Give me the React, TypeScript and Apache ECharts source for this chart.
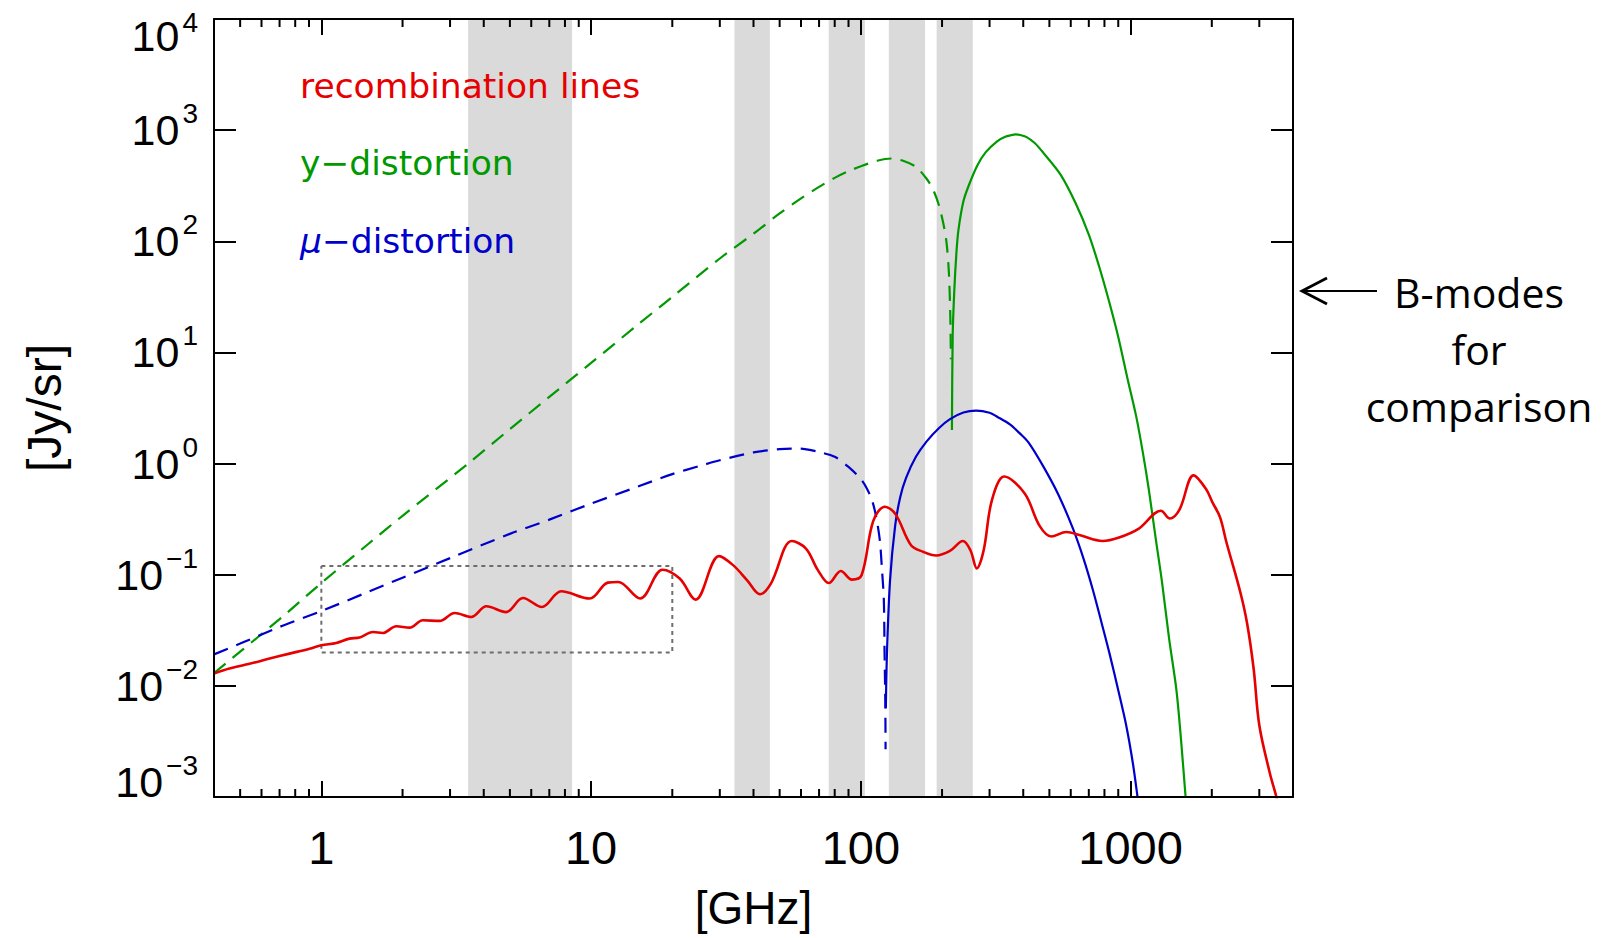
import React, { useEffect, useRef } from 'react';
import * as echarts from 'echarts';

// ---------- axis ranges / ticks ----------
const X_MIN = 0.4;
const X_MAX = 4000;
const Y_MIN = 0.001;
const Y_MAX = 10000;
const xMinorTicks = [0.5, 0.6, 0.7, 0.8, 0.9, 2, 3, 4, 5, 6, 7, 8, 9, 20, 30, 40, 50, 60, 70, 80, 90, 200, 300, 400, 500, 600, 700, 800, 900, 2000, 3000];

// ---------- shaded frequency bands (GHz) ----------
const bandStart = [3.5, 34, 76, 127, 191];
const bandEnd = [8.5, 46, 103.5, 173, 260];

// ---------- dotted box ----------
const boxX = [1, 20];
const boxY = [0.02, 0.12];

// ---------- recombination lines (red) ----------
const recombFreq = [0.4, 0.456, 0.542, 0.643, 0.762, 0.904, 1.0, 1.136, 1.272, 1.386, 1.553, 1.69, 1.896, 2.125, 2.379, 2.743, 3.12, 3.596, 4.09, 4.84, 5.59, 6.57, 7.75, 9.88, 11.54, 12.6, 15.2, 18.4, 21.3, 24.4, 29.8, 33.6, 37.9, 42.3, 46.4, 55.5, 62.6, 69.3, 76.1, 84.3, 92.6, 100.6, 111.2, 122.8, 134.4, 153.5, 170, 190, 214, 239, 254.8, 269, 285.3, 306, 340, 405, 460, 508, 578, 651, 787, 906, 1073, 1295, 1398, 1518, 1712, 1899, 2009, 2145, 2266, 2546, 2700, 2860, 3000, 3290, 3470, 3600];
const recombValue = [0.0129, 0.0143, 0.0158, 0.0176, 0.0195, 0.0216, 0.0232, 0.0243, 0.0266, 0.0272, 0.0305, 0.0299, 0.0344, 0.0334, 0.0389, 0.0384, 0.0453, 0.0417, 0.052, 0.0461, 0.0617, 0.0512, 0.071, 0.061, 0.0849, 0.0859, 0.061, 0.111, 0.0923, 0.0597, 0.147, 0.122, 0.0891, 0.0667, 0.0832, 0.201, 0.172, 0.11, 0.0841, 0.108, 0.0904, 0.0989, 0.305, 0.409, 0.351, 0.184, 0.161, 0.149, 0.164, 0.201, 0.166, 0.114, 0.166, 0.467, 0.764, 0.537, 0.275, 0.221, 0.242, 0.226, 0.201, 0.216, 0.26, 0.376, 0.32, 0.385, 0.783, 0.596, 0.45, 0.33, 0.196, 0.071, 0.0371, 0.0141, 0.00442, 0.0016, 0.001, 0.0006];

// ---------- y-distortion (green): negative part (dashed) and positive part (solid) ----------
const yNegFreq = [0.4, 0.5, 0.7, 1.0, 1.5, 2, 3.5, 5, 7, 10, 15, 20, 30, 40, 50, 60, 70, 80, 90, 100, 115, 130, 145, 160, 175, 185, 195, 203, 208, 212, 214.6, 215.7];
const yNegValue = [0.013, 0.0203, 0.0398, 0.0841, 0.191, 0.339, 1.0, 2.04, 3.98, 8.04, 18.0, 31.6, 70, 117, 178, 243, 309, 372, 427, 473, 531, 556, 525, 468, 367, 295, 209, 138, 95.5, 52.5, 21.4, 8.7];
const yPosFreq = [217.6, 219, 222, 226, 230, 240, 251, 270, 290, 320, 343, 360, 375, 390, 410, 440, 475, 550, 625, 700, 763, 830, 900, 975, 1050, 1110, 1167, 1240, 1308, 1390, 1478, 1540, 1599, 1650];
const yPosValue = [2.0, 14.1, 35.5, 77.6, 126, 229, 316, 479, 631, 794, 871, 900, 915, 905, 870, 770, 625, 398, 221, 115, 60.3, 29.5, 13.8, 5.75, 2.63, 1.26, 0.594, 0.209, 0.0853, 0.0263, 0.00925, 0.00316, 0.001, 0.0004];

// ---------- mu-distortion (blue): negative part (dashed) and positive part (solid) ----------
const muNegFreq = [0.4, 0.5, 0.7, 1, 1.5, 2, 3, 5, 7, 10, 15, 20, 25, 30, 40, 50, 56, 62, 70, 80, 90, 100, 105, 110, 114, 117.6, 119.6, 121.7, 122.4, 123.2, 123.5];
const muNegValue = [0.0192, 0.024, 0.0339, 0.0471, 0.0705, 0.094, 0.141, 0.233, 0.313, 0.436, 0.624, 0.804, 0.944, 1.07, 1.26, 1.35, 1.365, 1.35, 1.27, 1.15, 0.933, 0.724, 0.603, 0.468, 0.331, 0.204, 0.117, 0.0589, 0.0209, 0.00741, 0.00269];
const muPosFreq = [123.8, 125, 128.3, 134, 140, 147, 160, 175.4, 195, 214, 240, 267.5, 300, 320, 357, 390, 420, 474.6, 540, 612, 670, 727, 780, 836, 900, 963, 1020, 1061, 1100];
const muPosValue = [0.0063, 0.02, 0.089, 0.275, 0.5, 0.741, 1.15, 1.585, 2.09, 2.51, 2.88, 3.0, 2.87, 2.64, 2.25, 1.85, 1.53, 0.944, 0.525, 0.258, 0.138, 0.071, 0.0372, 0.0194, 0.00912, 0.00442, 0.002, 0.001, 0.0005];

// ---------- styling ----------
const RED = '#e60000';
const GREEN = '#009900';
const BLUE = '#0000cc';
const GREY_BAND = '#dadada';
const LIB = '"Liberation Sans", Arial, sans-serif';
const DEJ = '"DejaVu Sans", sans-serif';

const zip = (xs: number[], ys: number[]) => xs.map((x, i) => [x, ys[i]]);

function fmtX(v: number): string {
  const l = Math.log10(v);
  if (Math.abs(l - Math.round(l)) < 1e-6 && v >= 1) return String(Math.round(v));
  return '';
}

function fmtY(v: number): string {
  const e = Math.round(Math.log10(v));
  const s = e < 0 ? '\u2212' + -e : String(e);
  if (e === 4) return `{bt|10}{et|${s}}`;
  if (e === -3) return `{bb|10}{eb|${s}}`;
  return `{b|10}{e|${s}}`;
}

const baseTxt = { fontFamily: LIB, fontSize: 43, color: '#000', verticalAlign: 'middle' };
const expTxt = { fontFamily: LIB, fontSize: 28, color: '#000', verticalAlign: 'middle' };
const yRich = {
  b: { ...baseTxt },
  e: { ...expTxt, padding: [0, 0, 33, 3] },
  bt: { ...baseTxt, padding: [34, 0, 0, 0] },
  et: { ...expTxt, padding: [6, 0, 0, 3] },
  bb: { ...baseTxt, padding: [0, 0, 31, 0] },
  eb: { ...expTxt, padding: [0, 0, 64, 3] },
};

const axisLineStyle = { color: '#000', width: 2 };
const DASH = [15, 9];

export default function App() {
  const ref = useRef<HTMLDivElement>(null);

  useEffect(() => {
    if (!ref.current) return;
    const chart = echarts.init(ref.current, undefined, { renderer: 'svg' });

    const lineCommon = {
      type: 'line',
      xAxisIndex: 0,
      yAxisIndex: 0,
      showSymbol: false,
      symbol: 'none',
      smooth: 0.3,
      z: 3,
      silent: true,
    };

    const option: any = {
      animation: false,
      backgroundColor: '#ffffff',
      grid: { left: 214, top: 19, width: 1079, height: 778, show: false, containLabel: false },
      xAxis: [
        {
          type: 'log', logBase: 10, min: X_MIN, max: X_MAX, position: 'bottom', z: 5,
          axisLine: { show: true, onZero: false, lineStyle: axisLineStyle },
          axisTick: { show: true, inside: true, length: 16, lineStyle: axisLineStyle },
          axisLabel: { show: true, margin: 27, fontFamily: LIB, fontSize: 47, color: '#000', formatter: fmtX, showMinLabel: false, showMaxLabel: false },
          splitLine: { show: false },
          name: '[GHz]', nameLocation: 'middle', nameGap: 88,
          nameTextStyle: { fontFamily: LIB, fontSize: 46, color: '#000' },
        },
        {
          type: 'log', logBase: 10, min: X_MIN, max: X_MAX, position: 'top', z: 5,
          axisLine: { show: true, onZero: false, lineStyle: axisLineStyle },
          axisTick: { show: true, inside: true, length: 16, lineStyle: axisLineStyle },
          axisLabel: { show: false },
          splitLine: { show: false },
        },
      ],
      yAxis: [
        {
          type: 'log', logBase: 10, min: Y_MIN, max: Y_MAX, splitNumber: 7, position: 'left', z: 5,
          axisLine: { show: true, onZero: false, lineStyle: axisLineStyle },
          axisTick: { show: true, inside: true, length: 22, lineStyle: axisLineStyle },
          axisLabel: { show: true, margin: 16, formatter: fmtY, rich: yRich },
          splitLine: { show: false },
          name: '[Jy/sr]', nameLocation: 'middle', nameGap: 146, nameRotate: 90,
          nameTextStyle: { fontFamily: LIB, fontSize: 48, color: '#000' },
        },
        {
          type: 'log', logBase: 10, min: Y_MIN, max: Y_MAX, splitNumber: 7, position: 'right', z: 5,
          axisLine: { show: true, onZero: false, lineStyle: axisLineStyle },
          axisTick: { show: true, inside: true, length: 22, lineStyle: axisLineStyle },
          axisLabel: { show: false },
          splitLine: { show: false },
        },
      ],
      series: [
        {
          type: 'custom',
          coordinateSystem: 'cartesian2d',
          xAxisIndex: 0,
          yAxisIndex: 0,
          z: 1,
          silent: true,
          data: bandStart.map((s, i) => [s, bandEnd[i], 1]),
          encode: { x: [0, 1], y: 2 },
          renderItem: (_p: any, api: any) => {
            const p0 = api.coord([api.value(0), Y_MAX]);
            const p1 = api.coord([api.value(1), Y_MIN]);
            return {
              type: 'rect',
              shape: { x: p0[0], y: p0[1], width: p1[0] - p0[0], height: p1[1] - p0[1] },
              style: { fill: GREY_BAND },
            };
          },
        },
        {
          ...lineCommon,
          name: 'box',
          smooth: false,
          z: 2,
          data: [[boxX[0], boxY[1]], [boxX[1], boxY[1]], [boxX[1], boxY[0]], [boxX[0], boxY[0]], [boxX[0], boxY[1]]],
          lineStyle: { color: '#6e6e6e', width: 2, type: [4, 4] },
        },
        {
          ...lineCommon,
          name: 'y-distortion (negative)',
          data: zip(yNegFreq, yNegValue),
          lineStyle: { color: GREEN, width: 2.2, type: DASH },
        },
        {
          ...lineCommon,
          name: 'y-distortion',
          data: zip(yPosFreq, yPosValue),
          lineStyle: { color: GREEN, width: 2.2 },
        },
        {
          ...lineCommon,
          name: 'mu-distortion (negative)',
          data: zip(muNegFreq, muNegValue),
          lineStyle: { color: BLUE, width: 2.2, type: DASH },
        },
        {
          ...lineCommon,
          name: 'mu-distortion',
          data: zip(muPosFreq, muPosValue),
          lineStyle: { color: BLUE, width: 2.2 },
        },
        {
          ...lineCommon,
          name: 'recombination lines',
          smooth: 0.35,
          data: zip(recombFreq, recombValue),
          lineStyle: { color: RED, width: 2.6 },
        },
        {
          type: 'custom',
          coordinateSystem: 'cartesian2d',
          xAxisIndex: 0,
          yAxisIndex: 0,
          z: 6,
          silent: true,
          data: xMinorTicks.map((v) => [v, 1]),
          encode: { x: 0, y: 1 },
          renderItem: (_p: any, api: any) => {
            const v = api.value(0);
            const b = api.coord([v, Y_MIN]);
            const t = api.coord([v, Y_MAX]);
            const st = { stroke: '#000', lineWidth: 2 };
            return {
              type: 'group',
              children: [
                { type: 'line', shape: { x1: b[0], y1: b[1], x2: b[0], y2: b[1] - 8 }, style: st },
                { type: 'line', shape: { x1: t[0], y1: t[1], x2: t[0], y2: t[1] + 8 }, style: st },
              ],
            };
          },
        },
      ],
      graphic: [
        {
          type: 'text', x: 300, y: 86, z: 10,
          style: { text: 'recombination lines', fill: RED, fontFamily: DEJ, fontSize: 34.5, align: 'left', verticalAlign: 'middle' },
        },
        {
          type: 'text', x: 300, y: 163, z: 10,
          style: { text: 'y\u2212distortion', fill: GREEN, fontFamily: DEJ, fontSize: 34.5, align: 'left', verticalAlign: 'middle' },
        },
        {
          type: 'text', x: 300, y: 241, z: 10,
          style: {
            text: '{m|\u03bc}{n|\u2212distortion}',
            fill: BLUE, fontFamily: DEJ, fontSize: 34.5, align: 'left', verticalAlign: 'middle',
            rich: {
              m: { fill: BLUE, fontFamily: DEJ, fontSize: 34.5, fontStyle: 'italic' },
              n: { fill: BLUE, fontFamily: DEJ, fontSize: 34.5 },
            },
          },
        },
        {
          type: 'line', z: 10,
          shape: { x1: 1303, y1: 291, x2: 1377, y2: 291 },
          style: { stroke: '#000', lineWidth: 2.2 },
        },
        {
          type: 'polyline', z: 10,
          shape: { points: [[1327, 278], [1302, 291], [1327, 304]] },
          style: { stroke: '#000', lineWidth: 2.8, fill: null, lineJoin: 'miter' },
        },
        {
          type: 'text', x: 1479, y: 349, z: 10,
          style: {
            text: 'B-modes\nfor\ncomparison', fill: '#000', fontFamily: '"Open Sans", sans-serif', fontSize: 41,
            lineHeight: 57, align: 'center', verticalAlign: 'middle',
          },
        },
      ],
    };

    chart.setOption(option);
    return () => chart.dispose();
  }, []);

  return (
    <div
      ref={ref}
      style={{ position: 'fixed', left: 0, top: 0, width: '1612px', height: '938px', background: '#fff' }}
    />
  );
}
